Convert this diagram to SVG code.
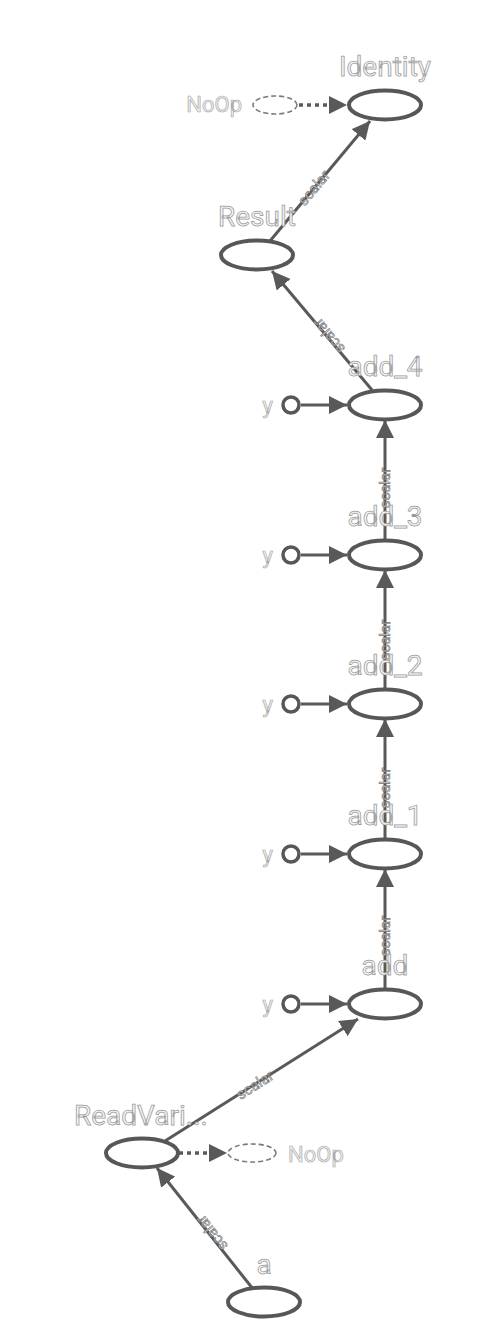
<svg xmlns="http://www.w3.org/2000/svg" width="492" height="1342" viewBox="0 0 492 1342">
<defs>
<style>
.op{fill:#fff;stroke:#575757;stroke-width:4}
.ctl{fill:#fff;stroke:#7a7a7a;stroke-width:1.6;stroke-dasharray:5 3}
.cst{fill:#fff;stroke:#575757;stroke-width:3.5}
.lbl{font-family:Roboto,"Liberation Sans",sans-serif;font-size:28px;fill:#f4f4f4;stroke:#999;stroke-width:0.75;text-anchor:middle}
.sm{font-family:Roboto,"Liberation Sans",sans-serif;font-size:22px;fill:#f4f4f4;stroke:#a6a6a6;stroke-width:0.7}
.e{fill:none;stroke:#595959;stroke-width:3}
.d{fill:none;stroke:#595959;stroke-width:3.5;stroke-dasharray:4 4}
.el{font-family:Roboto,"Liberation Sans",sans-serif;font-size:15px;fill:#d4d4d4;stroke:#707070;stroke-width:0.55;text-anchor:middle;dominant-baseline:central}
</style>
<marker id="arr" viewBox="0 0 10 10" refX="10" refY="5" markerUnits="userSpaceOnUse" markerWidth="18" markerHeight="18" orient="auto">
<path d="M0,0 L10,5 L0,10 z" fill="#595959"/>
</marker>
</defs>
<rect width="492" height="1342" fill="#fff"/>
<g id="connectors">
<line class="d" x1="299" y1="105" x2="347" y2="105" marker-end="url(#arr)"/>
<line class="e" x1="270" y1="241" x2="370" y2="121" marker-end="url(#arr)"/>
<text class="el" transform="translate(314,188) rotate(-50.2)">scalar</text>
<line class="e" x1="372" y1="390" x2="272" y2="271" marker-end="url(#arr)"/>
<text class="el" transform="translate(329,336) rotate(-129.8)">scalar</text>
<line class="e" x1="301" y1="405" x2="347" y2="405" marker-end="url(#arr)"/>
<line class="e" x1="385" y1="540" x2="385" y2="420" marker-end="url(#arr)"/>
<text class="el" transform="translate(385,488) rotate(-90)">scalar</text>
<line class="e" x1="301" y1="555" x2="347" y2="555" marker-end="url(#arr)"/>
<line class="e" x1="385" y1="689" x2="385" y2="570" marker-end="url(#arr)"/>
<text class="el" transform="translate(385,640) rotate(-90)">scalar</text>
<line class="e" x1="301" y1="704" x2="347" y2="704" marker-end="url(#arr)"/>
<line class="e" x1="385" y1="839" x2="385" y2="719" marker-end="url(#arr)"/>
<text class="el" transform="translate(385,788) rotate(-90)">scalar</text>
<line class="e" x1="301" y1="854" x2="347" y2="854" marker-end="url(#arr)"/>
<line class="e" x1="385" y1="989" x2="385" y2="869" marker-end="url(#arr)"/>
<text class="el" transform="translate(385,936) rotate(-90)">scalar</text>
<line class="e" x1="301" y1="1004" x2="347" y2="1004" marker-end="url(#arr)"/>
<line class="e" x1="165" y1="1141" x2="358" y2="1019" marker-end="url(#arr)"/>
<text class="el" transform="translate(255,1085) rotate(-32.5)">scalar</text>
<line class="d" x1="179" y1="1153" x2="227" y2="1153" marker-end="url(#arr)"/>
<line class="e" x1="253" y1="1289" x2="157" y2="1168" marker-end="url(#arr)"/>
<text class="el" transform="translate(212,1233) rotate(-128.4)">scalar</text>
</g>
<g id="node-identity">
<ellipse class="op" cx="385" cy="105" rx="36" ry="14.5"/>
<text class="lbl" x="385" y="76">Identity</text>
</g>
<g id="node-noop-top">
<ellipse class="ctl" cx="275" cy="105" rx="22" ry="9"/>
<text class="sm" x="242" y="112" text-anchor="end">NoOp</text>
</g>
<g id="node-result">
<ellipse class="op" cx="257" cy="255" rx="36" ry="14.5"/>
<text class="lbl" x="257" y="226">Result</text>
</g>
<g id="node-add4">
<ellipse class="op" cx="385" cy="405" rx="36" ry="14.5"/>
<text class="lbl" x="385" y="376">add_4</text>
</g>
<g id="node-y4">
<circle class="cst" cx="291" cy="405" r="8"/>
<text class="sm" x="273" y="413" text-anchor="end">y</text>
</g>
<g id="node-add3">
<ellipse class="op" cx="385" cy="555" rx="36" ry="14.5"/>
<text class="lbl" x="385" y="526">add_3</text>
</g>
<g id="node-y3">
<circle class="cst" cx="291" cy="555" r="8"/>
<text class="sm" x="273" y="563" text-anchor="end">y</text>
</g>
<g id="node-add2">
<ellipse class="op" cx="385" cy="704" rx="36" ry="14.5"/>
<text class="lbl" x="385" y="675">add_2</text>
</g>
<g id="node-y2">
<circle class="cst" cx="291" cy="704" r="8"/>
<text class="sm" x="273" y="712" text-anchor="end">y</text>
</g>
<g id="node-add1">
<ellipse class="op" cx="385" cy="854" rx="36" ry="14.5"/>
<text class="lbl" x="385" y="825">add_1</text>
</g>
<g id="node-y1">
<circle class="cst" cx="291" cy="854" r="8"/>
<text class="sm" x="273" y="862" text-anchor="end">y</text>
</g>
<g id="node-add">
<ellipse class="op" cx="385" cy="1004" rx="36" ry="14.5"/>
<text class="lbl" x="385" y="975">add</text>
</g>
<g id="node-y0">
<circle class="cst" cx="291" cy="1004" r="8"/>
<text class="sm" x="273" y="1012" text-anchor="end">y</text>
</g>
<g id="node-readvar">
<ellipse class="op" cx="142" cy="1153" rx="36" ry="14.5"/>
<text class="lbl" x="141" y="1125">ReadVari...</text>
</g>
<g id="node-noop-bottom">
<ellipse class="ctl" cx="252" cy="1153" rx="24" ry="9"/>
<text class="sm" x="288" y="1162">NoOp</text>
</g>
<g id="node-a">
<ellipse class="op" cx="264" cy="1302" rx="36" ry="14.5"/>
<text class="lbl" x="264" y="1274">a</text>
</g>
</svg>
